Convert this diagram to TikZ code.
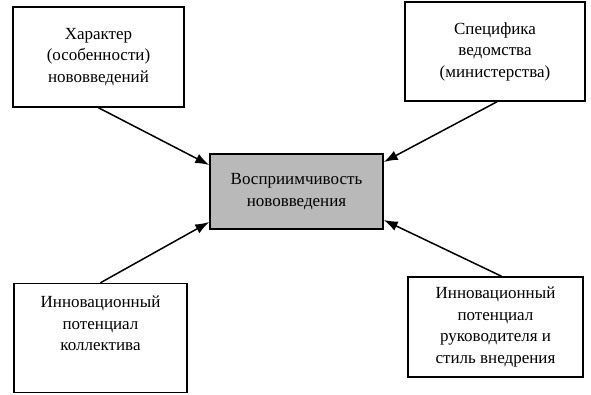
\documentclass[tikz,border=0pt]{standalone}
\usepackage{fontspec}
\setmainfont{Liberation Serif}
\usetikzlibrary{arrows.meta}
\begin{document}
\begin{tikzpicture}[x=1pt,y=-1pt,
  box/.style={draw=black,line width=1.5pt,fill=white,align=center,inner sep=0pt,
    font=\fontsize{17}{21.5}\selectfont},
  central/.style={box,fill=gray!55},
  arr/.style={line width=1.5pt,-{Latex[length=14pt,width=10pt]}}]
\useasboundingbox (0,0) rectangle (591,394);
\node[box,minimum width=171pt,minimum height=100pt] (tl) at (98.5,57) {Характер\\(особенности)\\нововведений};
\node[box,minimum width=180pt,minimum height=99pt] (tr) at (495,51.5) {Специфика\\ведомства\\(министерства)};
\node[central,minimum width=173pt,minimum height=75pt] (c) at (296.5,191.5) {Восприимчивость\\нововведения};
\node[box,minimum width=173pt,minimum height=109pt] (bl) at (100.5,338) {Инновационный\\потенциал\\коллектива\\[8pt]};
\node[box,minimum width=175pt,minimum height=100pt] (br) at (495.5,327) {Инновационный\\потенциал\\руководителя и\\стиль внедрения};
\draw[arr] (tl.south) -- ([yshift=26.5pt]c.west);
\draw[arr] ([xshift=2pt]tr.south) -- ([yshift=29.5pt]c.east);
\draw[arr] (bl.north) -- ([yshift=-30.5pt]c.west);
\draw[arr] ([xshift=6pt]br.north) -- ([yshift=-28.5pt]c.east);
\end{tikzpicture}
\end{document}
